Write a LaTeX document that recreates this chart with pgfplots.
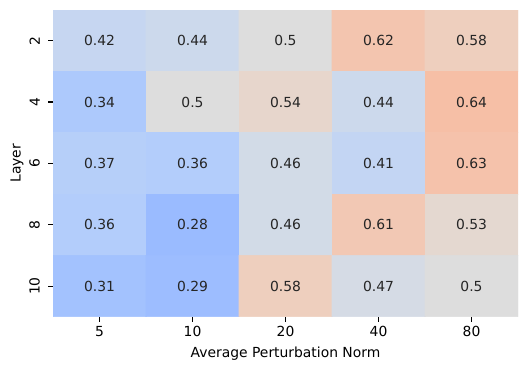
\documentclass[border=0pt]{standalone}
\usepackage{fontspec}
\setmainfont{DejaVu Sans}
\usepackage{pgfplots}
\usepackage{pgfplotstable}
\pgfplotsset{compat=1.18}

% coolwarm, sampled by hand (vmin=0, vmax=1)
\pgfplotsset{colormap={coolwarm}{
  rgb255(0cm)=(59,76,192);
  rgb255(10cm)=(98,130,234);
  rgb255(25cm)=(141,176,254);
  rgb255(28cm)=(154,187,255);
  rgb255(35cm)=(176,203,252);
  rgb255(40cm)=(192,212,245);
  rgb255(45cm)=(207,218,234);
  rgb255(50cm)=(221,221,221);
  rgb255(55cm)=(233,212,200);
  rgb255(60cm)=(241,203,184);
  rgb255(65cm)=(247,188,162);
  rgb255(75cm)=(244,154,123);
  rgb255(100cm)=(180,4,38)
}}

% x: perturbation norm index, y: layer index
\pgfplotstableread{
x y v    lab
0 0 0.42 0.42
1 0 0.44 0.44
2 0 0.50 0.5
3 0 0.62 0.62
4 0 0.58 0.58
0 1 0.34 0.34
1 1 0.50 0.5
2 1 0.54 0.54
3 1 0.44 0.44
4 1 0.64 0.64
0 2 0.37 0.37
1 2 0.36 0.36
2 2 0.46 0.46
3 2 0.41 0.41
4 2 0.63 0.63
0 3 0.36 0.36
1 3 0.28 0.28
2 3 0.46 0.46
3 3 0.61 0.61
4 3 0.53 0.53
0 4 0.31 0.31
1 4 0.29 0.29
2 4 0.58 0.58
3 4 0.47 0.47
4 4 0.50 0.5
}\heat

\definecolor{annot}{RGB}{38,38,38}

\begin{document}
\begin{tikzpicture}
\begin{axis}[
  at={(0,0)}, anchor=south west,
  width=335pt, height=221pt, scale only axis,
  xmin=-0.5, xmax=4.5, ymin=-0.5, ymax=4.5,
  y dir=reverse,
  xtick={0,...,4}, xticklabels={5,10,20,40,80},
  ytick={0,...,4}, yticklabels={2,4,6,8,10},
  xtick pos=bottom, ytick pos=left,
  yticklabel style={rotate=90, anchor=south},
  yticklabel shift=2.5pt,
  axis line style={draw=none},
  tick align=outside,
  major tick length=3.5pt,
  tick style={black, line width=0.8pt},
  tick label style={font=\fontsize{10}{12}\selectfont},
  label style={font=\fontsize{10}{12}\selectfont},
  xlabel={Average Perturbation Norm},
  ylabel={Layer},
  ylabel style={at={(axis description cs:-0.0776,0.5)}, anchor=center},
  colormap name=coolwarm,
  point meta min=0, point meta max=1,
]
\addplot[matrix plot*, mesh/cols=5, mesh/ordering=x varies, point meta=explicit]
  table[x=x, y=y, meta=v] {\heat};
\addplot[draw=none, mark=none, nodes near coords, point meta=explicit symbolic,
  nodes near coords style={anchor=center, text=annot, font=\fontsize{10}{12}\selectfont}]
  table[x=x, y=y, meta=lab] {\heat};
\end{axis}
\pgfresetboundingbox
\path[use as bounding box] (-38.2pt,-38.9pt) rectangle (342.2pt,228.2pt);
\end{tikzpicture}
\end{document}
